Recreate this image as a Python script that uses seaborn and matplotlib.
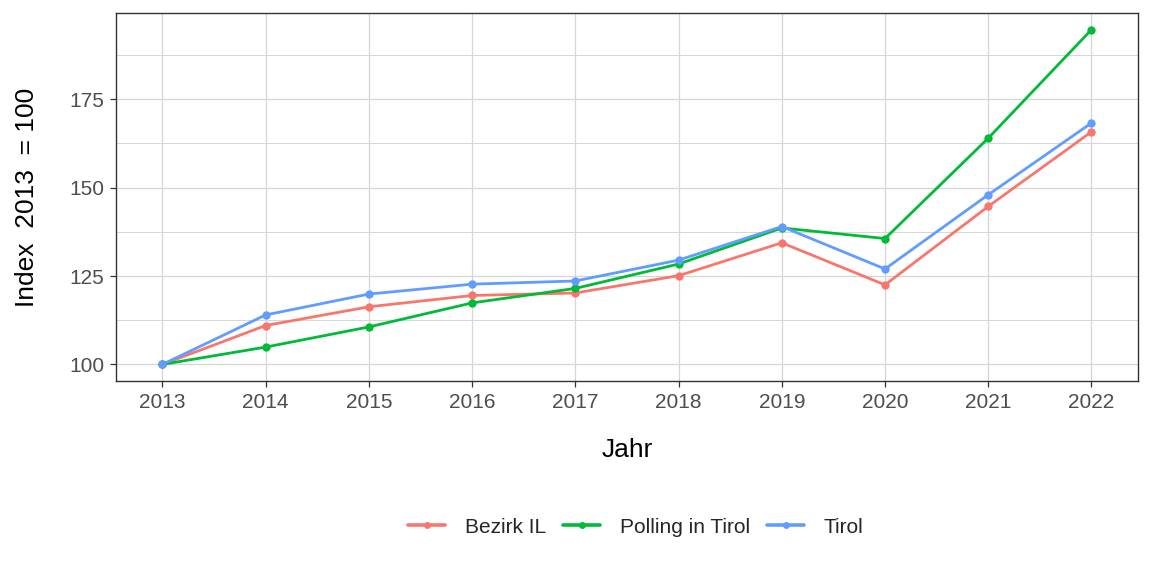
import numpy as np
import pandas as pd
import matplotlib
matplotlib.use("Agg")
import matplotlib.pyplot as plt
import seaborn as sns
from matplotlib.ticker import MultipleLocator

years = [2013, 2014, 2015, 2016, 2017, 2018, 2019, 2020, 2021, 2022]
bezirk_il = [100, 111.0, 116.3, 119.5, 120.2, 125.1, 134.4, 122.5, 144.7, 165.8]
polling = [100, 104.9, 110.6, 117.4, 121.5, 128.4, 138.6, 135.6, 164.0, 194.7]
tirol = [100, 114.0, 119.9, 122.7, 123.6, 129.5, 139.0, 127.0, 148.0, 168.3]
series_names = ["Bezirk IL", "Polling in Tirol", "Tirol"]
colors = ["#F8766D", "#00BA38", "#619CFF"]

df = pd.DataFrame({
    "Jahr": years * 3,
    "value": bezirk_il + polling + tirol,
    "series": [s for s in series_names for _ in years],
})

sns.set_theme(style="white")
plt.rcParams["font.family"] = ["Liberation Sans", "DejaVu Sans"]

fig = plt.figure(figsize=(11.52, 5.76), dpi=100)
ax = fig.add_axes([0.1007, 0.3385, 0.8871, 0.6389])

sns.lineplot(data=df, x="Jahr", y="value", hue="series", hue_order=series_names,
             palette=colors, marker="o", markersize=6, markeredgewidth=0,
             linewidth=2.0, ax=ax, legend=True)

ax.set_xlim(2013 - 0.45, 2022 + 0.45)
ax.set_ylim(95.3, 199.4)
ax.set_xticks(years)
ax.set_xticklabels([str(y) for y in years])
ax.set_yticks([100, 125, 150, 175])
ax.yaxis.set_minor_locator(MultipleLocator(12.5))
ax.grid(True, which="major", color="#d6d6d6", linewidth=0.9)
ax.grid(True, which="minor", axis="y", color="#d6d6d6", linewidth=0.7)
ax.set_axisbelow(True)
for sp in ax.spines.values():
    sp.set_color("#333333")
    sp.set_linewidth(1.0)
ax.tick_params(axis="both", which="major", length=4.5, width=0.9, color="#333333",
               labelsize=15, labelcolor="#4d4d4d", pad=4, direction="out",
               bottom=True, left=True)
ax.tick_params(axis="y", which="minor", length=0)
ax.set_xlabel("Jahr", fontsize=19, color="black")
ax.set_ylabel("Index  2013  = 100", fontsize=19, color="black")
ax.xaxis.set_label_coords(0.5, -0.155)
ax.yaxis.set_label_coords(-0.0754, 0.5)

handles, labels = ax.get_legend_handles_labels()
ax.get_legend().remove()
for h in handles:
    h.set_linewidth(2.6)
    h.set_markersize(5)
fig.legend(handles, labels, loc="center", bbox_to_anchor=(0.552, 0.085), ncol=3,
           frameon=False, fontsize=15, handlelength=1.75, columnspacing=0.85,
           handletextpad=0.95)

fig.savefig("out.png", dpi=100)
